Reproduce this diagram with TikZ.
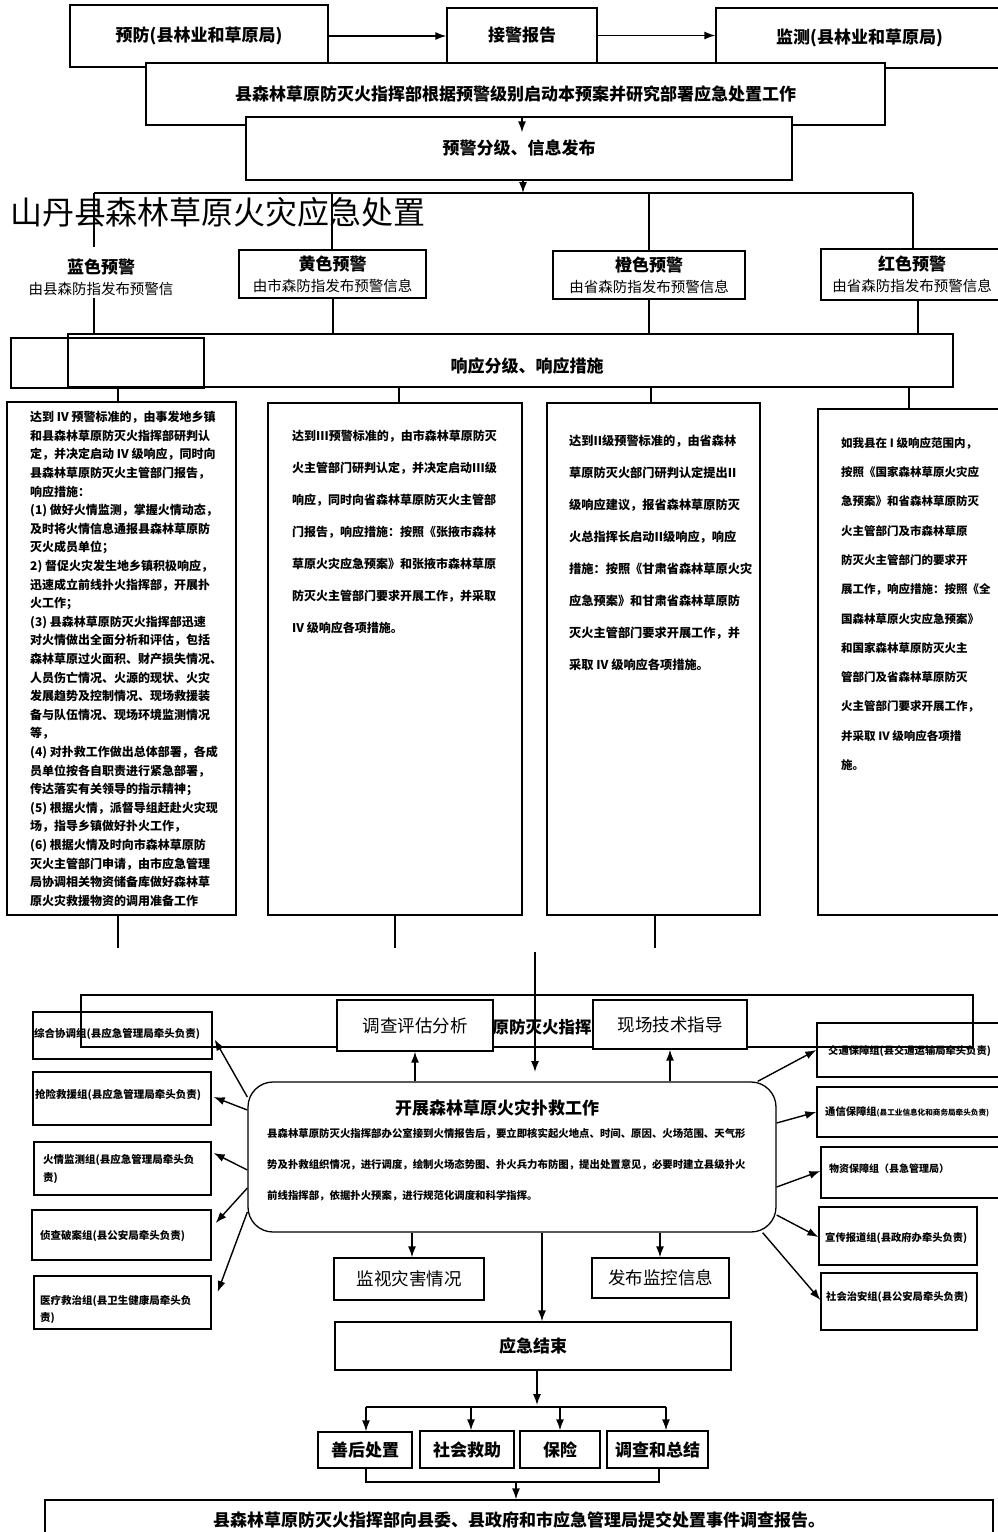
\documentclass[tikz,border=0pt]{standalone}
\usepackage{fontspec}
\setmainfont{Noto Sans CJK SC}
\usetikzlibrary{arrows.meta}
\newcommand{\fsz}[2]{\fontsize{#1}{#2}\selectfont}
\newcommand{\mybox}[7][]{\node[boxst,minimum width={(#5)-(#3)},minimum height={(#6)-(#4)},#1] (#2) at ({((#3)+(#5))/2},{((#4)+(#6))/2}) {#7};}
\tikzset{
  boxst/.style={draw, line width=1.3pt, inner sep=0pt, align=center},
  arr/.style={-{Latex[length=11pt,width=8pt]}, line width=1.4pt},
  ln/.style={line width=1.3pt},
  lbl/.style={inner sep=0pt, align=left},
  colt/.style={inner sep=0pt, align=left, anchor=north west},
}
\begin{document}
\begin{tikzpicture}[x=1pt,y=-1pt]
\useasboundingbox[fill=white] (0,0) rectangle (998,1532);

% ---------- top row ----------
\mybox[font=\bfseries\fsz{17}{20}]{prev}{70}{5}{328}{67}{预防(县林业和草原局)}
\mybox[font=\bfseries\fsz{17}{20}]{jj}{447}{8}{597}{63}{接警报告}
\mybox[font=\bfseries\fsz{17}{20}]{jc}{716}{8}{1003}{68}{监测(县林业和草原局)}
\draw[arr] (prev.east) -- (jj.west |- prev.east);
\draw[arr] (jj.east) -- (jc.west |- jj.east);
\mybox[fill=white,font=\bfseries\fsz{17}{20}]{cmd}{146}{63}{885}{125}{县森林草原防灭火指挥部根据预警级别启动本预案并研究部署应急处置工作}
\mybox[fill=white,font=\bfseries\fsz{17}{20}]{yj}{246}{117}{792}{180}{预警分级、信息发布}
\draw[arr] ([xshift=3pt]yj.north) -- ++(0,16);

% ---------- title ----------
\node[inner sep=0pt,font=\fsz{32}{35}] (title) at (218,212) {山丹县森林草原火灾应急处置};

% ---------- warning levels ----------
\coordinate (hb) at (523,193);
\coordinate (hL) at (94,193);
\coordinate (hR) at (913,193);
\draw[arr] ([xshift=4pt]yj.south) -- (hb);
\draw[ln] (hL) -- (hR);
\node[lbl,align=center,font=\fsz{14.5}{21}] (blue) at (101,277) {\textbf{\fsz{17}{21}蓝色预警}\\由县森防指发布预警信};
\mybox[font=\fsz{14.5}{21}]{yb}{239}{250}{426}{298}{\textbf{\fsz{17}{21}黄色预警}\\由市森防指发布预警信息}
\mybox[font=\fsz{14.5}{21}]{ob}{553}{251}{745}{299}{\textbf{\fsz{17}{21}橙色预警}\\由省森防指发布预警信息}
\mybox[font=\fsz{14.5}{21}]{rb}{821}{249}{1003}{300}{\textbf{\fsz{17}{21}红色预警}\\由省森防指发布预警信息}
\coordinate (bluetop) at (94,247);
\coordinate (bluebot) at (94,298);
\draw[ln] (hL) -- (bluetop);
\draw[ln] (332,193) -- (yb.north -| 332,0);
\draw[ln] (649,193) -- (ob.north -| 649,0);
\draw[ln] (hR) -- (rb.north -| hR);

% ---------- response ----------
\mybox{rp}{68}{334}{953}{387}{}
\node[lbl,font=\bfseries\fsz{17}{20}] (rpt) at (527,366) {响应分级、响应措施};
\mybox{ex}{11}{338}{204}{388}{}
\draw[ln] (bluebot) -- (rp.north -| bluebot);
\draw[ln] (yb.south -| 333,0) -- (rp.north -| 333,0);
\draw[ln] (ob.south -| 649,0) -- (rp.north -| 649,0);
\draw[ln] (rb.south -| 918,0) -- (rp.north -| 918,0);

% ---------- columns ----------
\mybox{c4}{7}{402}{236}{915}{}
\mybox{c3}{268}{403}{522}{915}{}
\mybox{c2}{547}{403}{760}{915}{}
\mybox{c1}{818}{409}{1003}{915}{}
\draw[ln] (rp.south -| 118,0) -- (c4.north -| 118,0);
\draw[ln] (rp.south -| 399,0) -- (c3.north -| 399,0);
\draw[ln] (rp.south -| 651,0) -- (c2.north -| 651,0);
\draw[ln] (rp.south -| 909,0) -- (c1.north -| 909,0);

\node[colt,font=\bfseries\fsz{12}{18.6}] (t4) at (30,411) {达到 IV 预警标准的，由事发地乡镇\\
和县森林草原防灭火指挥部研判认\\
定，并决定启动 IV 级响应，同时向\\
县森林草原防灭火主管部门报告，\\
响应措施：\\
(1) 做好火情监测，掌握火情动态，\\
及时将火情信息通报县森林草原防\\
灭火成员单位；\\
2) 督促火灾发生地乡镇积极响应，\\
迅速成立前线扑火指挥部，开展扑\\
火工作；\\
(3) 县森林草原防灭火指挥部迅速\\
对火情做出全面分析和评估，包括\\
森林草原过火面积、财产损失情况、\\
人员伤亡情况、火源的现状、火灾\\
发展趋势及控制情况、现场救援装\\
备与队伍情况、现场环境监测情况\\
等，\\
(4) 对扑救工作做出总体部署，各成\\
员单位按各自职责进行紧急部署，\\
传达落实有关领导的指示精神；\\
(5) 根据火情，派督导组赶赴火灾现\\
场，指导乡镇做好扑火工作，\\
(6) 根据火情及时向市森林草原防\\
灭火主管部门申请，由市应急管理\\
局协调相关物资储备库做好森林草\\
原火灾救援物资的调用准备工作};

\node[colt,font=\bfseries\fsz{12}{32}] (t3) at (292,430) {达到III预警标准的，由市森林草原防灭\\
火主管部门研判认定，并决定启动III级\\
响应，同时向省森林草原防灭火主管部\\
门报告，响应措施：按照《张掖市森林\\
草原火灾应急预案》和张掖市森林草原\\
防灭火主管部门要求开展工作，并采取\\
IV 级响应各项措施。};

\node[colt,font=\bfseries\fsz{12.2}{32}] (t2) at (569,435) {达到II级预警标准的，由省森林\\
草原防灭火部门研判认定提出II\\
级响应建议，报省森林草原防灭\\
火总指挥长启动II级响应，响应\\
措施：按照《甘肃省森林草原火灾\\
应急预案》和甘肃省森林草原防\\
灭火主管部门要求开展工作，并\\
采取 IV 级响应各项措施。};

\node[colt,font=\bfseries\fsz{11.5}{29.3}] (t1) at (841,437) {如我县在 I 级响应范围内，\\
按照《国家森林草原火灾应\\
急预案》和省森林草原防灭\\
火主管部门及市森林草原\\
防灭火主管部门的要求开\\
展工作，响应措施：按照《全\\
国森林草原火灾应急预案》\\
和国家森林草原防灭火主\\
管部门及省森林草原防灭\\
火主管部门要求开展工作，\\
并采取 IV 级响应各项措\\
施。};

\coordinate (e4) at (118,948);
\coordinate (e3) at (395,948);
\coordinate (e2) at (655,948);
\draw[ln] (c4.south -| e4) -- (e4);
\draw[ln] (c3.south -| e3) -- (e3);
\draw[ln] (c2.south -| e2) -- (e2);

% ---------- lower section ----------
\mybox{bg}{81}{995}{973}{1047}{}
\node[lbl,font=\bfseries\fsz{16.5}{20}] (bgt) at (542,1027) {原防灭火指挥};
\mybox[fill=white,font=\fsz{17.5}{20}]{dc}{337}{1000}{493}{1051}{调查评估分析}
\mybox[fill=white,font=\fsz{17.5}{20}]{xc}{593}{1000}{747}{1049}{现场技术指导}
\coordinate (vtop) at (535,952);
\coordinate (vbot) at (535,1072);
\draw[arr] (vtop) -- (vbot);

\node[draw,line width=1.3pt,rounded corners=25pt,minimum width=528,minimum height=150,inner sep=0pt] (kz) at (512,1157) {};
\node[lbl,font=\bfseries\fsz{17}{20}] (kzt) at (497,1108) {开展森林草原火灾扑救工作};
\node[colt,font=\bfseries\fsz{10.4}{31}] (kzb) at (267,1128) {县森林草原防灭火指挥部办公室接到火情报告后，要立即核实起火地点、时间、原因、火场范围、天气形\\
势及扑救组织情况，进行调度，绘制火场态势图、扑火兵力布防图，提出处置意见，必要时建立县级扑火\\
前线指挥部，依据扑火预案，进行规范化调度和科学指挥。};

\draw[arr] (kz.north -| dc) -- (dc.south);
\draw[arr] (kz.north -| 670,0) -- (xc.south -| 670,0);

% left groups
\mybox{g1}{33}{1012}{212}{1059}{}
\mybox{g2}{33}{1072}{211}{1125}{}
\mybox{g3}{34}{1142}{211}{1195}{}
\mybox{g4}{32}{1210}{211}{1260}{}
\mybox{g5}{34}{1276}{211}{1329}{}
\node[lbl,anchor=west,font=\bfseries\fsz{10.5}{17}] (g1t) at (34,1034) {综合协调组(县应急管理局牵头负责)};
\node[lbl,anchor=west,font=\bfseries\fsz{10.5}{17}] (g2t) at (35,1095) {抢险救援组(县应急管理局牵头负责)};
\node[lbl,anchor=west,font=\bfseries\fsz{10.5}{18}] (g3t) at (43,1169) {火情监测组(县应急管理局牵头负\\责)};
\node[lbl,anchor=west,font=\bfseries\fsz{10.5}{17}] (g4t) at (40,1236) {侦查破案组(县公安局牵头负责)};
\node[lbl,anchor=west,font=\bfseries\fsz{10.5}{17}] (g5t) at (40,1310) {医疗救治组(县卫生健康局牵头负\\责)};
\draw[arr] ([yshift=60pt]kz.west) -- ([xshift=2pt,yshift=-4pt]g1.east);
\draw[arr] ([yshift=47pt]kz.west) -- ([xshift=2pt,yshift=1.5pt]g2.east);
\draw[arr] ([yshift=-13pt]kz.west) -- ([xshift=2pt,yshift=15.5pt]g3.east);
\draw[arr] ([yshift=-31pt]kz.west) -- ([xshift=4pt,yshift=12pt]g4.east);
\draw[arr] ([yshift=-55pt]kz.west) -- ([xshift=6pt,yshift=10.5pt]g5.east);

% right groups
\mybox{r1}{817}{1023}{1003}{1077}{}
\mybox{r2}{817}{1087}{1003}{1137}{}
\mybox{r3}{821}{1147}{1003}{1198}{}
\mybox{r4}{819}{1207}{977}{1265}{}
\mybox{r5}{821}{1273}{977}{1330}{}
\node[lbl,anchor=west,font=\bfseries\fsz{10.3}{17}] (r1t) at (828,1051) {交通保障组(县交通运输局牵头负责)};
\node[lbl,anchor=west,font=\bfseries\fsz{10.3}{17}] (r2t) at (825,1112) {通信保障组{\fsz{7.6}{17}(县工业信息化和商务局牵头负责)}};
\node[lbl,anchor=west,font=\bfseries\fsz{10}{17}] (r3t) at (829,1169) {物资保障组（县急管理局）};
\node[lbl,anchor=west,font=\bfseries\fsz{10.3}{17}] (r4t) at (825,1238) {宣传报道组(县政府办牵头负责)};
\node[lbl,anchor=west,font=\bfseries\fsz{10.3}{17}] (r5t) at (826,1297) {社会治安组(县公安局牵头负责)};
\draw[arr] ([xshift=-19pt]kz.north east) -- ([yshift=0pt]r1.west);
\draw[arr] ([yshift=34pt]kz.east) -- ([yshift=0pt]r2.west);
\draw[arr] ([yshift=-30pt]kz.east) -- ([yshift=1.5pt]r3.west);
\draw[arr] ([yshift=-58pt]kz.east) -- ([yshift=-1pt]r4.west);
\draw[arr] ([xshift=-14pt]kz.south east) -- ([yshift=1.5pt]r5.west);

% below
\mybox[font=\fsz{17.5}{20}]{m1}{334}{1258}{484}{1300}{监视灾害情况}
\mybox[font=\fsz{17.5}{20}]{m2}{592}{1258}{729}{1298}{发布监控信息}
\mybox[font=\bfseries\fsz{17}{20}]{end}{335}{1322}{731}{1370}{应急结束}
\draw[arr] (kz.south -| 412,0) -- (m1.north -| 412,0);
\draw[arr] (kz.south -| 660,0) -- (m2.north -| 660,0);
\draw[arr] (kz.south -| 542,0) -- (end.north -| 542,0);

\mybox[font=\bfseries\fsz{17}{20}]{s1}{318}{1432}{412}{1468}{善后处置}
\mybox[font=\bfseries\fsz{17}{20}]{s2}{420}{1431}{514}{1468}{社会救助}
\mybox[font=\bfseries\fsz{17}{20}]{s3}{520}{1431}{600}{1468}{保险}
\mybox[font=\bfseries\fsz{17}{20}]{s4}{607}{1431}{708}{1468}{调查和总结}
\coordinate (bar) at (537,1407);
\draw[arr] (end.south -| bar) -- ([yshift=2pt]bar);
\draw[ln] (366,1407) -- (666,1407);
\draw[arr] (366,1407) -- (s1.north -| 366,0);
\draw[arr] (471,1407) -- (s2.north -| 471,0);
\draw[arr] (560,1407) -- (s3.north -| 560,0);
\draw[arr] (666,1407) -- (s4.north -| 666,0);

\mybox[font=\bfseries\fsz{17}{20}]{fin}{45}{1500}{993}{1540}{县森林草原防灭火指挥部向县委、县政府和市应急管理局提交处置事件调查报告。}
\coordinate (jb) at (516,1482);
\draw[ln] (s1.south -| 366,0) -- (366,1482) -- (659,1482) -- (s4.south -| 659,0);
\draw[arr] (jb) -- (fin.north -| jb);
\end{tikzpicture}
\end{document}
